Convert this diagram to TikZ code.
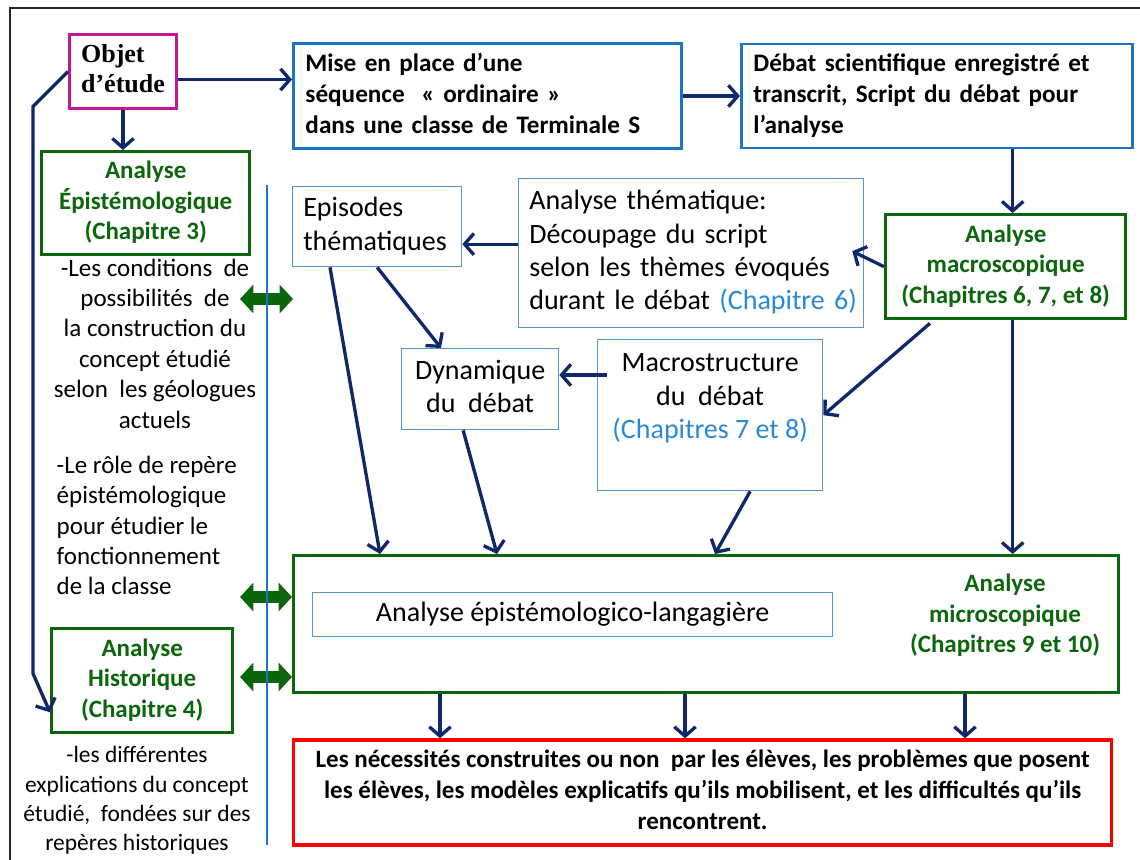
\documentclass[tikz,border=0pt]{standalone}
\usepackage{fontspec}
\setmainfont{Carlito}
\newfontfamily\serifobj{Liberation Serif}
\usepackage{tikz}
\usetikzlibrary{positioning, calc, arrows.meta}
\setlength{\parindent}{0pt}

\definecolor{navy}{RGB}{15,40,105}
\definecolor{boxblue}{RGB}{28,117,196}
\definecolor{lightblue}{RGB}{84,150,210}
\definecolor{chapblue}{RGB}{40,138,214}
\definecolor{dkgreen}{RGB}{12,102,12}
\definecolor{objmag}{RGB}{192,24,150}

\newcommand{\txtbf}{\fontsize{18.9}{23.25}\selectfont\bfseries}
\newcommand{\txtbig}{\fontsize{21}{25}\selectfont}
\newcommand{\txtgreen}{\fontsize{18.75}{23}\selectfont\bfseries}
\newcommand{\txtleft}{\fontsize{18.75}{22.8}\selectfont}
\newcommand{\txtsmall}{\fontsize{17.6}{22}\selectfont}
\newcommand{\objfont}{\serifobj\fontsize{19.5}{22}\selectfont\bfseries}

\begin{document}
\begin{tikzpicture}[x=0.75pt, y=-0.75pt,
  arr/.style={draw=navy, line width=2.5pt, -{Straight Barb[length=7pt,width=16pt]}},
  dblarr/.style={draw=dkgreen, line width=9pt, {Triangle[length=10pt,width=21pt]}-{Triangle[length=10pt,width=21pt]}},
  bluebox/.style={draw=boxblue, line width=2.2pt, rectangle, anchor=north west, inner ysep=0pt, inner xsep=9pt, font=\txtbf},
  thinbox/.style={draw=lightblue, line width=1pt, rectangle, anchor=north west, inner ysep=0pt, inner xsep=8pt, font=\txtbig},
  greenbox/.style={draw=dkgreen, line width=2.5pt, rectangle, anchor=north west, inner sep=0pt, text=dkgreen, font=\txtgreen}]

  \useasboundingbox (0,0) rectangle (1140,860);
  \draw[line width=1.5pt, black!85] (10,860) -- (10,8) -- (1140,8);

  \node[draw=objmag, line width=2.25pt, rectangle, anchor=north west, minimum width=80.25pt, minimum height=55.5pt, inner sep=0pt, font=\objfont] (n1) at (68,33) {
  \begin{tabular}{@{}l@{}}
    Objet \\
    d’étude
  \end{tabular}
  };

  \node[bluebox, text width=273pt, minimum height=78.75pt] (n2) at (292,42) {
  \begin{tabular}{@{}l@{}}
    Mise en place d’une \\
    séquence\ \ « ordinaire » \\
    dans une classe de Terminale S
  \end{tabular}
  };

  \node[bluebox, text width=275.25pt, minimum height=78pt, right=42.75pt of n2] (n3) {
  \begin{tabular}{@{}l@{}}
    Débat scientifique enregistré et \\
    transcrit, Script du débat pour \\
    l’analyse
  \end{tabular}
  };

  \node[greenbox, minimum width=156pt, minimum height=77.25pt] (n4) at (40,150) {
  \begin{tabular}{c}
    Analyse \\
    Épistémologique \\
    (Chapitre 3)
  \end{tabular}
  };

  \node[thinbox, text width=110.75pt, minimum height=60pt] (n5) at (292,186) {
  \begin{tabular}{@{}l@{}}
    Episodes \\
    thématiques
  \end{tabular}
  };

  \node[thinbox, text width=242.75pt, minimum height=111.75pt] (n6) at (518,178) {
  \begin{tabular}{@{}l@{}}
    Analyse thématique: \\
    Découpage du script \\
    selon les thèmes évoqués \\
    durant le débat \textcolor{chapblue}{(Chapitre 6)}
  \end{tabular}
  };

  \node[greenbox, minimum width=180pt, minimum height=78pt] (n7) at (884,213) {
  \begin{tabular}{c}
    Analyse \\
    macroscopique \\
    (Chapitres 6, 7, et 8)
  \end{tabular}
  };

  \node[thinbox, inner xsep=0pt, minimum width=117.75pt, minimum height=60.75pt] (n8) at (401,348) {
  \begin{tabular}{c}
    Dynamique \\
    du\ \ débat
  \end{tabular}
  };

  \node[thinbox, inner xsep=0pt, minimum width=168.75pt, minimum height=113.25pt] (n9) at (597,339) {
  \begin{tabular}{c}
    Macrostructure \\
    du\ \ débat \\
    \textcolor{chapblue}{(Chapitres 7 et 8)} \\
    ~
  \end{tabular}
  };

  \node[greenbox, minimum width=618.75pt, minimum height=102.75pt] (n10) at (292,554) {};

  \node[text=dkgreen, font=\txtgreen] (n11) at (1005,616) {
  \begin{tabular}{c}
    Analyse \\
    microscopique \\
    (Chapitres 9 et 10)
  \end{tabular}
  };

  \node[thinbox, inner xsep=0pt, minimum width=390pt, minimum height=33pt] (n12) at (312,592) {Analyse épistémologico-langagière};

  \node[draw=red, line width=2.5pt, rectangle, inner sep=0pt, minimum width=613.5pt, minimum height=78.75pt, font=\txtgreen, below=33pt of n10.south west, anchor=north west] (n13) {
  \begin{tabular}{c}
    Les nécessités construites ou non\ \ par les élèves, les problèmes que posent \\
    les élèves, les modèles explicatifs qu’ils mobilisent, et les difficultés qu’ils \\
    rencontrent.
  \end{tabular}
  };

  \node[greenbox, minimum width=135.75pt, minimum height=78pt] (n14) at (50,627) {
  \begin{tabular}{c}
    Analyse \\
    Historique \\
    (Chapitre 4)
  \end{tabular}
  };

  \node[font=\txtleft] (t1) at (155,346) {
  \begin{tabular}{c}
    -Les conditions\ \ de \\
    possibilités\ \ de \\
    la construction du \\
    concept étudié \\
    selon\ \ les géologues \\
    actuels
  \end{tabular}
  };

  \node[font=\txtleft, anchor=west] (t2) at (52,528) {
  \begin{tabular}{@{}l@{}}
    -Le rôle de repère \\
    épistémologique \\
    pour étudier le \\
    fonctionnement \\
    de la classe
  \end{tabular}
  };

  \node[font=\txtsmall] (t3) at (137,801) {
  \begin{tabular}{c}
    -les différentes \\
    explications du concept \\
    étudié,\ \ fondées sur des \\
    repères historiques
  \end{tabular}
  };

  % fleches
  \draw[arr] ($(n1.east)+(0,8)$) coordinate (p1) -- (p1 -| n2.west);
  \draw[arr] (n2.east) -- (n2.east -| n3.west);
  \draw[arr] (n1.south) -- (n1.south |- n4.north);
  \coordinate (p2) at ($(n7.north)+(7,0)$);
  \draw[arr] (p2 |- n3.south) -- (p2);
  \draw[arr] ($(n6.west)+(0,-9)$) coordinate (p3) -- (p3 -| n5.east);
  \draw[arr] (n7.west) -- ($(n6.east)+(-12,-2)$);
  \draw[arr] ($(n7.south west)+(46,3)$) -- (n9.east);
  \draw[arr] ($(n7.south)+(7,0)$) coordinate (p4) -- (p4 |- n10.north);
  \draw[arr] ($(n9.north west)+(10,36)$) coordinate (p5) -- (p5 -| n8.east);
  \draw[arr] (n5.south) -- ($(n8.north west)+(40,0)$);
  \draw[arr] ($(n5.south west)+(38,0)$) -- ($(n10.north west)+(88,0)$);
  \draw[arr] ($(n8.south)+(-17,0)$) -- ($(n10.north west)+(205,0)$);
  \draw[arr] ($(n9.south)+(40,0)$) -- ($(n10.north west)+(423,0)$);
  \foreach \dx in {148,393,673}
    \draw[arr] ($(n10.south west)+(\dx,0)$) -- ($(n13.north west)+(\dx,0)$);
  \draw[arr] (n1.west) -- ++(-35,35) -- ++(0,567) -- ($(n14.south west)+(0,-22)$);

  % doubles fleches
  \coordinate (c1) at (240,299);
  \coordinate (c2) at (293,299);
  \draw[dblarr] (c1) -- (c2);
  \coordinate (c3) at (240,597);
  \draw[dblarr] (c3) -- (c3 -| n10.west);
  \coordinate (c4) at (240,677);
  \draw[dblarr] (c4) -- (c4 -| n10.west);

  \draw[draw=boxblue, line width=0.9pt] (267,185) -- (267,845);

\end{tikzpicture}
\end{document}
